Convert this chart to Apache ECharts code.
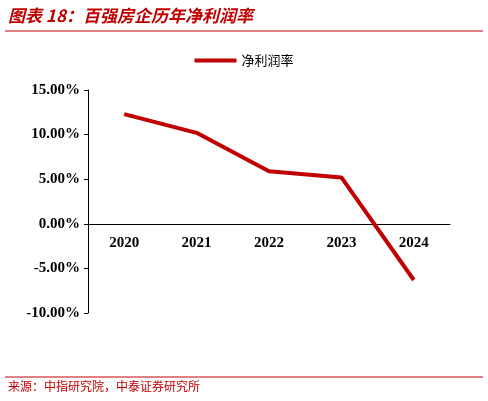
<!DOCTYPE html>
<html>
<head>
<meta charset="utf-8">
<script src="https://cdn.jsdelivr.net/npm/echarts@6/dist/echarts.min.js"></script>
<style>html,body{margin:0;padding:0;background:#fff}#c{width:488px;height:401px}</style>
</head>
<body>
<div id="c"></div>
<script>
const years = ["2020", "2021", "2022", "2023", "2024"];
const netMargin = [12.3, 10.2, 5.9, 5.2, -6.3];
const seriesName = "净利润率";

const chart = echarts.init(document.getElementById("c"));
chart.setOption({
  animation: false,
  graphic: [
    { type: "text", left: 8, top: 7, style: { text: "图表 18：百强房企历年净利润率", fill: "#c00000", font: "italic bold 17px 'Noto Sans CJK SC'" } },
    { type: "line", shape: { x1: 5, y1: 31, x2: 483, y2: 31 }, style: { stroke: "#c00000", lineWidth: 1.2 } },
    { type: "line", shape: { x1: 5, y1: 377, x2: 483, y2: 377 }, style: { stroke: "#c00000", lineWidth: 1 } },
    { type: "text", left: 8, top: 380, style: { text: "来源：中指研究院，中泰证券研究所", fill: "#c00000", font: "12px 'Noto Sans CJK SC'" } }
  ],
  legend: {
    top: 49, left: "center",
    itemWidth: 42, itemHeight: 4,
    icon: "rect",
    textStyle: { fontFamily: "Noto Sans CJK SC", fontSize: 13, color: "#000" }
  },
  grid: { left: 88, right: 38, top: 90, bottom: 88 },
  xAxis: {
    type: "category", data: years,
    offset: -89.2,
    axisLine: { onZero: false, lineStyle: { color: "#000" } },
    axisTick: { show: false },
    axisLabel: { margin: 12, color: "#000", fontFamily: "Liberation Serif", fontWeight: "bold", fontSize: 15 }
  },
  yAxis: {
    type: "value", min: -10, max: 15, interval: 5,
    splitLine: { show: false },
    axisLine: { show: true, lineStyle: { color: "#000" } },
    axisTick: { show: true, length: 4 },
    axisLabel: { formatter: v => v.toFixed(2) + "%", color: "#000", fontFamily: "Liberation Serif", fontWeight: "bold", fontSize: 15 }
  },
  series: [{
    name: seriesName, type: "line", data: netMargin,
    symbol: "none", color: "#c00000",
    lineStyle: { width: 4, color: "#c00000" }
  }]
});
</script>
</body>
</html>
